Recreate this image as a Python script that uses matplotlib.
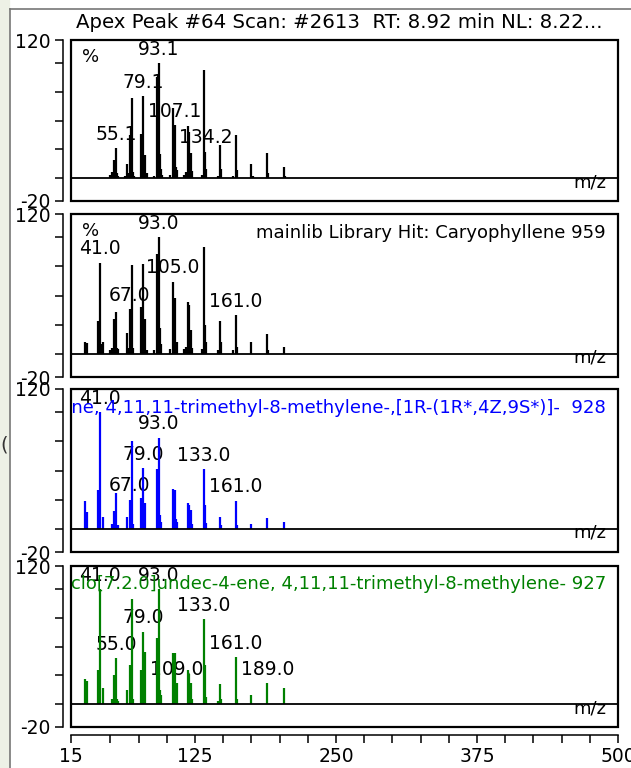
import numpy as np
import matplotlib
matplotlib.use("Agg")
import matplotlib.pyplot as plt
from matplotlib.patches import Rectangle
from matplotlib.lines import Line2D

plt.rcParams.update({'font.family': 'DejaVu Sans', 'font.size': 13,
                     'xtick.labelsize': 13.5, 'ytick.labelsize': 13.5})

# --- data (m/z, relative intensity %) ---

TITLE = "Apex Peak #64 Scan: #2613  RT: 8.92 min NL: 8.22..."

# measured spectrum at the peak apex
sample_mz = [50, 51, 53, 54, 55, 56, 57,
             63, 65, 66, 67, 68, 69, 70, 71,
             77, 78, 79, 80, 81, 82,
             89, 91, 92, 93, 94, 95, 96,
             103, 105, 106, 107, 108, 109,
             115, 117, 119, 120, 121, 122,
             131, 133, 134, 135,
             145, 147, 148,
             159, 161, 162,
             175, 176, 189, 190, 204, 205]
sample_int = [3, 5, 16, 4, 26, 4, 2,
              2, 12, 4, 37, 10, 70, 5, 2,
              38, 10, 71, 20, 20, 4,
              2, 88, 30, 100, 21, 8, 3,
              3, 61, 18, 46, 10, 7,
              3, 5, 45, 40, 22, 6,
              3, 94, 23, 8,
              2, 29, 8,
              2, 37, 7,
              12, 2, 22, 4, 10, 2]
sample_labels = ["55.1", "79.1", "93.1", "107.1", "134.2"]

# library hit 1: caryophyllene
lib1_name = "mainlib Library Hit: Caryophyllene 959"
lib1_mz = [27, 29, 39, 41, 42, 43,
           50, 51, 53, 55, 56, 57,
           65, 66, 67, 68, 69, 70,
           77, 78, 79, 80, 81, 82,
           89, 91, 92, 93, 94, 95,
           103, 105, 106, 107, 108, 109,
           115, 117, 119, 120, 121, 122,
           131, 133, 134, 135,
           145, 147, 148,
           159, 161, 162,
           175, 189, 190, 204]
lib1_int = [10, 9, 28, 78, 8, 10,
            3, 5, 30, 36, 5, 4,
            18, 5, 38, 10, 76, 5,
            40, 9, 77, 15, 30, 3,
            3, 86, 25, 100, 22, 8,
            4, 62, 15, 48, 9, 10,
            4, 6, 44, 42, 20, 5,
            4, 92, 25, 10,
            3, 28, 10,
            3, 33, 6,
            10, 17, 3, 6]
lib1_labels = ["41.0", "67.0", "93.0", "105.0", "161.0"]

# library hit 2
lib2_name = ("Bicyclo[7.2.0]undec-4-ene, 4,11,11-trimethyl-8-methylene-,"
             "[1R-(1R*,4Z,9S*)]-  928")
lib2_mz = [27, 29, 39, 41, 43,
           51, 53, 55, 57,
           65, 67, 68, 69, 70,
           77, 79, 80, 81,
           91, 92, 93, 94, 95,
           105, 106, 107, 108, 109,
           119, 120, 121, 122,
           133, 134, 135,
           147, 148,
           161, 162,
           175, 189, 204]
lib2_int = [24, 14, 33, 100, 10,
            4, 15, 31, 3,
            10, 25, 8, 75, 4,
            26, 52, 12, 22,
            51, 14, 78, 12, 6,
            34, 10, 33, 8, 6,
            22, 20, 16, 4,
            51, 20, 5,
            10, 3,
            24, 3,
            4, 9, 6]
lib2_labels = ["41.0", "67.0", "79.0", "93.0", "133.0", "161.0"]

# library hit 3
lib3_name = "Bicyclo[7.2.0]undec-4-ene, 4,11,11-trimethyl-8-methylene- 927"
lib3_mz = [27, 29, 39, 41, 43,
           51, 53, 55, 56, 57,
           65, 67, 68, 69, 70,
           77, 79, 80, 81,
           91, 92, 93, 94, 95,
           105, 106, 107, 108, 109,
           119, 120, 121, 122,
           133, 134, 135,
           145, 147, 148,
           161, 162,
           175, 189, 204]
lib3_int = [22, 20, 30, 100, 14,
            4, 25, 40, 4, 3,
            12, 34, 8, 91, 4,
            30, 63, 15, 45,
            57, 15, 100, 12, 8,
            44, 12, 44, 8, 18,
            30, 26, 18, 4,
            74, 34, 6,
            3, 17, 4,
            41, 4,
            8, 18, 14]
lib3_labels = ["41.0", "55.0", "79.0", "93.0", "109.0", "133.0", "161.0", "189.0"]

panels = [
    dict(mz=sample_mz, inten=sample_int, labels=sample_labels, color='black',
         name=None, percent=True),
    dict(mz=lib1_mz, inten=lib1_int, labels=lib1_labels, color='black',
         name=lib1_name, percent=True),
    dict(mz=lib2_mz, inten=lib2_int, labels=lib2_labels, color='#0000ff',
         name=lib2_name, percent=False),
    dict(mz=lib3_mz, inten=lib3_int, labels=lib3_labels, color='#008000',
         name=lib3_name, percent=False),
]

W, H = 631, 768
fig = plt.figure(figsize=(W / 100, H / 100), dpi=100)

# window chrome of the screenshot
fig.patches.append(Rectangle((0, 0), 9 / W, 1, transform=fig.transFigure,
                             color='#edf1e6', zorder=0))
fig.add_artist(Line2D([9.5 / W, 9.5 / W], [0, 1 - 8.5 / H], color='#777777', lw=1.2))
fig.add_artist(Line2D([9.5 / W, 1], [1 - 8.5 / H, 1 - 8.5 / H], color='#777777', lw=1.2))
fig.text(0.5 / W, 1 - 445 / H, "(", fontsize=14, color='#333333', va='center')

# axes boxes in pixels: (top, bottom)
boxes = [(40, 201), (214, 377), (389, 552), (566, 727)]
left_px, right_px = 71, 618
out_pt = 8 * 72 / 100   # 8 px offset for the detached axis lines

fig.text(339 / W, 1 - 22 / H, TITLE, ha='center', va='center', fontsize=14.2)

for i, (p, (top, bot)) in enumerate(zip(panels, boxes)):
    ax = fig.add_axes([left_px / W, 1 - bot / H, (right_px - left_px) / W, (bot - top) / H])
    ax.set_xlim(15, 500)
    ax.set_ylim(-20, 120)

    # spectrum sticks
    ax.vlines(p['mz'], 0, p['inten'], color=p['color'], lw=1.6, zorder=3)
    ax.axhline(0, color='black', lw=1.3, zorder=4)

    # peak labels sit just above their peak
    lookup = dict(zip(p['mz'], p['inten']))
    for lab in p['labels']:
        m = float(lab)
        ax.text(m, lookup.get(int(round(m)), 0) + 12, lab, ha='center', va='center',
                fontsize=13.5, zorder=2)

    if p['percent']:
        ax.text(32, 105, "%", ha='center', va='center', zorder=2)
    if p['name']:
        ax.text(0.978, 104, p['name'], color=p['color'], ha='right', va='center',
                transform=ax.get_yaxis_transform(), clip_on=True, zorder=2)
    ax.text(0.978, -3.5, "m/z", ha='right', va='center',
            transform=ax.get_yaxis_transform(), zorder=2)

    # frame around the plot area
    ax.add_patch(Rectangle((0, 0), 1, 1, transform=ax.transAxes, fill=False,
                           lw=1.6, edgecolor='black', clip_on=False, zorder=5))

    for s in ['top', 'right']:
        ax.spines[s].set_visible(False)
    ax.spines['left'].set_position(('outward', out_pt))
    ax.spines['left'].set_linewidth(1.1)
    ax.set_yticks([-20, 0, 25, 50, 75, 100, 120])
    ax.set_yticklabels(['-20', '', '', '', '', '', '120'])
    ax.tick_params(axis='y', direction='out', length=6, width=1.1, pad=3)

    if i == len(panels) - 1:
        ax.spines['bottom'].set_position(('outward', out_pt))
        ax.spines['bottom'].set_linewidth(1.1)
        ax.set_xticks([15, 125, 250, 375, 500])
        ax.set_xticks(np.arange(50, 500, 25), minor=True)
        ax.tick_params(axis='x', which='both', direction='out', length=6, width=1.1, pad=3)
    else:
        ax.spines['bottom'].set_visible(False)
        ax.set_xticks([])

fig.savefig("out.png", dpi=100)
